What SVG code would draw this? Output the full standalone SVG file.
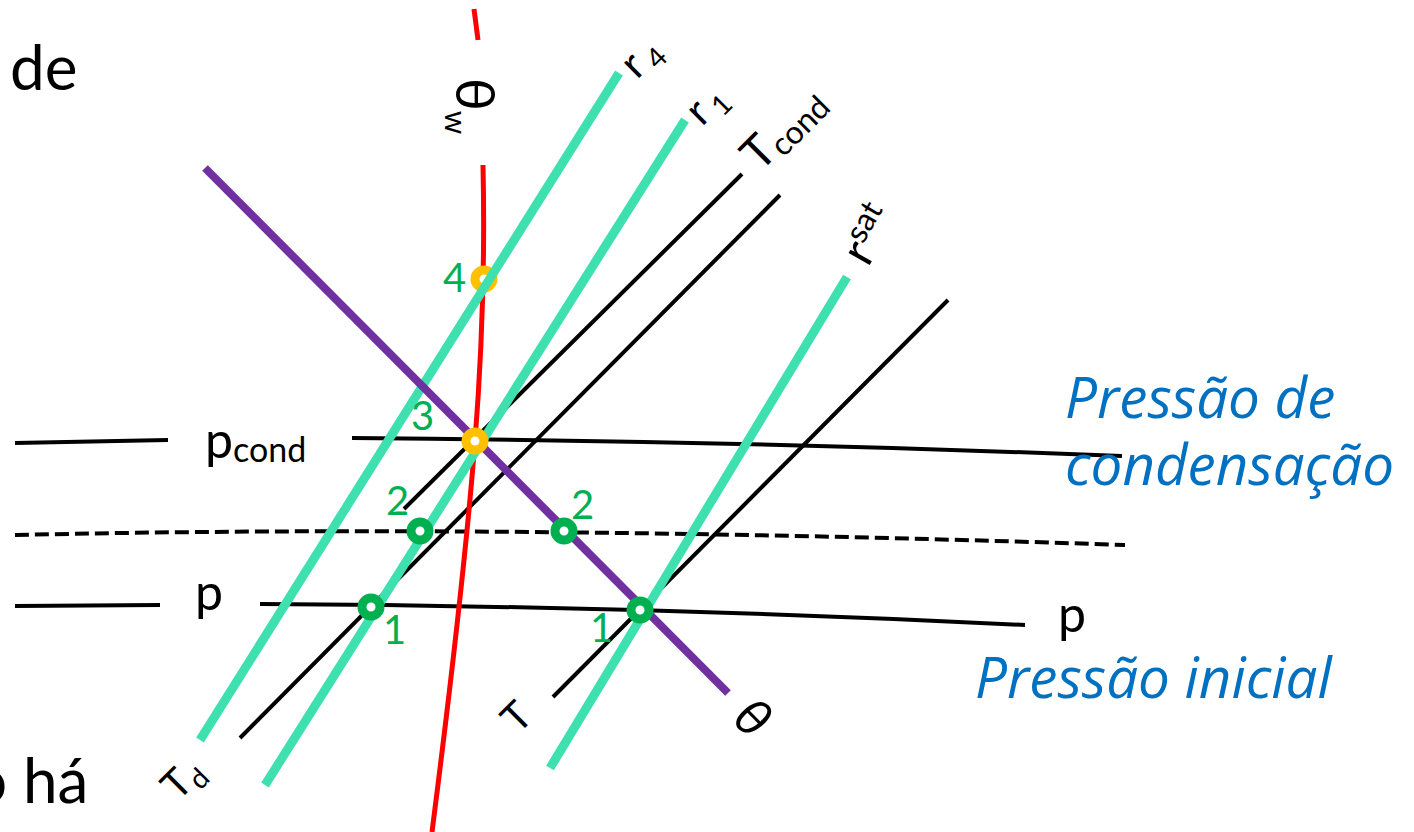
<svg xmlns="http://www.w3.org/2000/svg" width="1414" height="832" viewBox="0 0 1414 832">
<style>
text{font-family:Lato,"Noto Sans","DejaVu Sans",sans-serif;}
.k{fill:none;stroke:#000;stroke-width:4;}
.teal{fill:none;stroke:#3DE0AE;stroke-width:9;}
.pur{fill:none;stroke:#7030A0;stroke-width:8;}
.red{fill:none;stroke:#FF0000;stroke-width:5;}
.pt{fill:#fff;stroke:#00B050;stroke-width:9;}
.pty{fill:#fff;stroke:#FFC000;stroke-width:9;}
.num{fill:#00B050;font-size:40px;}
.lbl{fill:#000;}
.blue{fill:#0070C0;font-style:italic;font-size:56.5px;font-family:"Open Sans","Noto Sans",sans-serif;}
</style>
<rect width="1414" height="832" fill="#fff"/>
<g id="bg-text">
<text x="10" y="90" font-size="62" class="lbl">de</text>
<text x="-28" y="803" font-size="62" class="lbl">o há</text>
</g>
<g id="connectors">
<path class="k" d="M15,443 L168,440"/>
<path class="k" d="M352,438 Q740,441 1122,456"/>
<path class="k" d="M15,535 Q500,524 1125,545" stroke-dasharray="14 6"/>
<path class="k" d="M15,606 L160,605"/>
<path class="k" d="M260,604 Q640,606 1025,625"/>
<path class="k" d="M742,174 L404,509"/>
<path class="k" d="M780,195 L240,738"/>
<path class="k" d="M948,300 L553,697"/>
<path class="red" d="M474,9 L478,40"/>
<path class="red" d="M483,165 Q486,300 475,441 T432,832"/>
</g>
<g id="point-4"><circle class="pty" cx="484" cy="279" r="9"/></g>
<g id="teal-lines">
<path class="teal" d="M619,73 L200,740"/>
<path class="teal" d="M685,120 L265,785"/>
<path class="teal" d="M847,277 L550,768"/>
</g>
<g id="theta-line"><path class="pur" d="M205,168 L728,693"/></g>
<g id="points">
<circle class="pt" cx="420" cy="531" r="9"/>
<circle class="pt" cx="564" cy="531" r="9"/>
<circle class="pt" cx="371" cy="607" r="9"/>
<circle class="pt" cx="640" cy="610" r="9"/>
<circle class="pty" cx="475" cy="441" r="9"/>
</g>
<g id="numbers">
<text class="num" x="443" y="292">4</text>
<text class="num" x="411" y="430">3</text>
<text class="num" x="386" y="515">2</text>
<text class="num" x="571" y="519">2</text>
<text class="num" x="383" y="644">1</text>
<text class="num" x="590" y="642">1</text>
</g>
<g id="labels">
<text x="205" y="458" font-size="50" class="lbl">p<tspan font-size="34" dy="4">cond</tspan></text>
<text x="195" y="610" font-size="50" class="lbl">p</text>
<text x="1058" y="632" font-size="50" class="lbl">p</text>
<text transform="translate(456,78) rotate(90)" font-size="55" class="lbl">θ<tspan font-size="30" dy="11">w</tspan></text>
<text transform="translate(637,80) rotate(-45)" font-size="42" class="lbl">r<tspan font-size="28" dx="6" dy="8">4</tspan></text>
<text transform="translate(702,127) rotate(-45)" font-size="42" class="lbl">r<tspan font-size="28" dx="6" dy="8">1</tspan></text>
<text transform="translate(760,173) rotate(-45)" font-size="46" class="lbl">T<tspan font-size="32" dy="6">cond</tspan></text>
<text transform="translate(868,268) rotate(-60)" font-size="48" class="lbl">r<tspan font-size="32" dy="-16">sat</tspan></text>
<text transform="translate(178,802) rotate(-45)" font-size="40" class="lbl">T<tspan font-size="28" dy="8">d</tspan></text>
<text transform="translate(518,735) rotate(-45)" font-size="40" class="lbl">T</text>
<text transform="translate(730,720) rotate(45)" font-size="52" font-style="italic" class="lbl">θ</text>
</g>
<g id="blue-text">
<text class="blue" x="1065" y="418">Pressão de</text>
<text class="blue" x="1065" y="485">condensação</text>
<text class="blue" x="975" y="698">Pressão inicial</text>
</g>
</svg>
